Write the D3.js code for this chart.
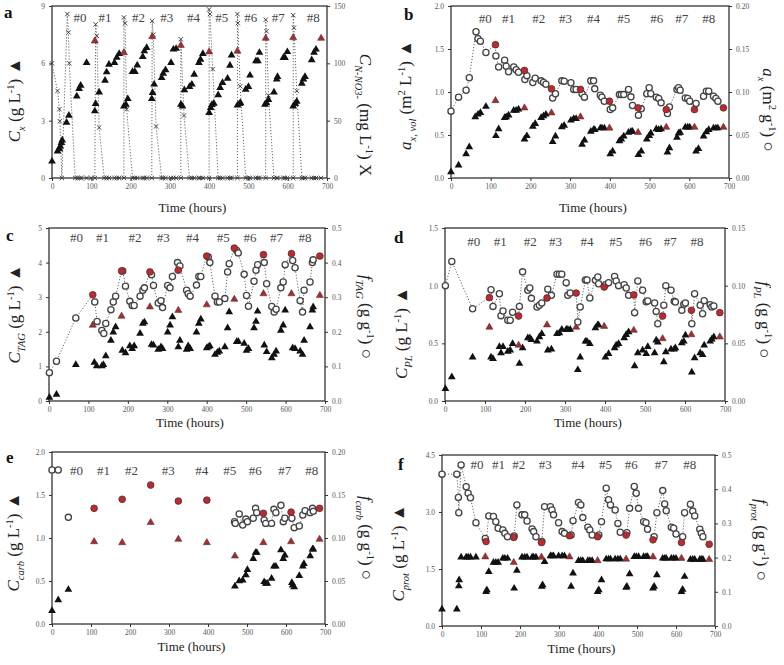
<!DOCTYPE html>
<html><head><meta charset="utf-8">
<script src="https://cdn.jsdelivr.net/npm/d3@7"></script>
<style>body{margin:0;background:#fff}</style></head>
<body><svg id="c" width="784" height="665"></svg>
<script>
// ---------------- DATA ----------------
const xTicks = [0,100,200,300,400,500,600,700];
const hashLabels = ['#0','#1','#2','#3','#4','#5','#6','#7','#8'];

// Panel a
const aCxBlack = [[0,0.87],[14,1.40],[19,1.52],[21,1.66],[24,1.84],[26,1.98],[37,2.90],[43,3.27],[63,4.28],[69,4.67],[73,4.84],[88,6.03],[109,3.50],[111,3.88],[120,4.49],[135,5.10],[139,5.54],[145,5.94],[159,6.03],[165,6.30],[171,6.50],[183,3.76],[188,3.85],[193,4.14],[205,5.56],[211,5.56],[217,5.90],[231,6.35],[235,6.64],[241,6.82],[254,4.14],[256,4.46],[260,4.90],[279,5.24],[283,5.47],[289,5.65],[303,6.03],[309,6.73],[316,6.77],[328,3.85],[332,3.76],[337,4.60],[350,4.77],[356,4.90],[362,5.42],[374,6.03],[378,6.20],[384,6.50],[400,3.41],[404,3.67],[407,3.83],[412,3.90],[423,4.34],[428,4.72],[434,4.98],[447,5.21],[453,5.89],[457,6.42],[472,3.80],[477,3.88],[480,3.92],[493,4.63],[500,4.77],[504,5.37],[519,6.12],[524,6.12],[528,6.56],[542,3.85],[546,3.93],[551,4.10],[565,4.49],[572,5.16],[574,5.30],[589,6.29],[593,6.29],[599,6.60],[614,3.76],[619,3.88],[623,4.00],[636,4.95],[640,5.16],[644,5.30],[661,6.17],[667,6.56],[672,6.73]];
const aCxRed = [[109,7.17],[183,6.56],[255,7.40],[328,6.94],[400,6.60],[472,6.64],[544,7.31],[614,7.34],[685,7.31]];
const aNO3 = [[0,100],[14,76],[19,60],[20,49.5],[25,0],[39,143],[42,127],[44,100],[59,0],[65,0],[70,0],[75,0],[88,0],[100,0],[109,0],[111,134],[114,124],[120,44],[133,0],[139,0],[145,0],[159,0],[165,0],[171,0],[183,0],[183,140],[186,135],[190,60],[205,0],[211,0],[217,0],[231,0],[235,0],[241,0],[254,0],[255,137],[258,125],[265,45],[279,0],[283,0],[289,0],[303,0],[309,0],[316,0],[328,0],[328,121],[336,54.5],[350,0],[356,0],[362,0],[374,0],[378,0],[384,0],[400,0],[400,147],[402,143],[409,95],[423,0],[428,0],[434,0],[447,0],[453,0],[457,0],[472,0],[472,143],[473,135],[479,80],[493,0],[500,0],[504,0],[519,0],[524,0],[528,0],[544,0],[544,138],[546,128],[551,72],[565,0],[572,0],[574,0],[589,0],[593,0],[599,0],[614,0],[614,142],[616,131],[623,76],[636,0],[640,0],[644,0],[661,0],[667,0],[672,0],[685,0]];
const aHashT = [71,135,220,292,360,432,506,576,665];

// Panel b
const bAreaBlack = [[0,0.07],[19,0.148],[38,0.28],[46,0.36],[61,0.71],[68,0.74],[74,0.76],[88,0.83],[113,0.49],[120,0.57],[135,0.70],[139,0.71],[145,0.73],[158,0.785],[164,0.785],[170,0.80],[185,0.45],[191,0.49],[206,0.60],[212,0.63],[227,0.70],[233,0.72],[239,0.74],[256,0.42],[263,0.485],[279,0.594],[285,0.61],[302,0.67],[309,0.69],[315,0.69],[330,0.39],[336,0.44],[352,0.54],[359,0.56],[362,0.56],[376,0.58],[380,0.58],[386,0.58],[401,0.28],[407,0.31],[424,0.43],[429,0.45],[435,0.485],[447,0.53],[453,0.54],[457,0.54],[472,0.27],[479,0.31],[493,0.45],[499,0.49],[503,0.52],[517,0.57],[523,0.56],[529,0.57],[545,0.30],[550,0.35],[569,0.47],[573,0.52],[577,0.53],[590,0.59],[596,0.59],[601,0.59],[617,0.31],[623,0.34],[636,0.485],[643,0.535],[649,0.56],[661,0.58],[667,0.58],[672,0.58]];
const bAreaRed = [[112,0.90],[185,0.815],[253,0.757],[326,0.71],[399,0.58],[471,0.53],[542,0.59],[613,0.59],[686,0.59]];
const bSpecOpen = [[0,0.0777],[19,0.094],[38,0.102],[46,0.1165],[63,0.170],[68,0.162],[74,0.159],[88,0.146],[113,0.142],[120,0.129],[135,0.137],[139,0.130],[145,0.1235],[158,0.129],[164,0.126],[170,0.123],[186,0.1146],[191,0.119],[206,0.111],[212,0.116],[227,0.113],[233,0.111],[239,0.109],[256,0.093],[263,0.098],[279,0.113],[285,0.1126],[302,0.1107],[309,0.103],[315,0.103],[330,0.098],[336,0.094],[352,0.113],[359,0.113],[362,0.1037],[376,0.0963],[380,0.094],[386,0.0893],[401,0.0796],[407,0.0816],[424,0.097],[429,0.097],[435,0.097],[447,0.103],[453,0.0944],[457,0.0843],[472,0.073],[479,0.0804],[493,0.098],[499,0.105],[503,0.098],[517,0.094],[523,0.0924],[529,0.0874],[545,0.075],[550,0.0827],[569,0.103],[573,0.105],[577,0.102],[590,0.093],[596,0.0924],[601,0.0893],[617,0.0866],[636,0.095],[643,0.101],[649,0.101],[661,0.095],[667,0.0924],[672,0.0893]];
const bSpecRed = [[112,0.155],[185,0.125],[253,0.1037],[326,0.103],[399,0.0893],[471,0.0816],[542,0.0796],[613,0.0796],[686,0.0816]];
const bHashT = [86,145,221,288,359,435,518,581,649];

// Panel c
const cTagBlack = [[1,0.1],[19,0.19],[68,1.05],[115,1.11],[121,1.01],[134,1.01],[138,1.05],[144,1.3],[157,1.75],[163,1.99],[169,2.14],[186,1.46],[194,1.39],[205,1.59],[211,1.51],[216,1.59],[231,1.95],[238,2.24],[242,2.28],[260,1.63],[265,1.61],[277,1.49],[284,1.56],[288,1.51],[301,1.99],[307,2.19],[313,2.43],[328,1.56],[332,1.75],[349,1.49],[353,1.59],[358,1.51],[374,1.99],[380,2.24],[385,2.36],[400,1.53],[404,1.56],[408,1.59],[421,1.34],[427,1.4],[432,1.44],[446,1.56],[453,2.11],[457,2.57],[476,1.71],[480,1.72],[495,1.66],[501,1.46],[506,1.51],[520,2.11],[525,2.3],[529,2.59],[546,1.61],[552,1.42],[565,1.24],[571,1.34],[576,1.44],[588,2.04],[594,2.19],[599,2.62],[618,1.53],[624,1.51],[637,1.44],[643,1.34],[647,1.75],[662,2.14],[668,2.62],[670,2.72]];
const cTagRedTri = [[111,2.19],[184,2.45],[256,2.72],[328,2.62],[400,2.78],[470,2.94],[544,3.1],[615,3.1],[687,3.05]];
const cTagOpen = [[1,0.082],[19,0.115],[68,0.24],[116,0.286],[122,0.23],[134,0.204],[139,0.195],[144,0.224],[157,0.264],[163,0.286],[169,0.303],[187,0.376],[194,0.332],[205,0.288],[211,0.276],[216,0.276],[231,0.303],[238,0.32],[242,0.327],[260,0.365],[265,0.334],[277,0.283],[284,0.29],[288,0.27],[301,0.334],[307,0.327],[313,0.36],[326,0.40],[332,0.39],[349,0.32],[353,0.31],[358,0.303],[374,0.335],[380,0.36],[385,0.36],[404,0.416],[408,0.40],[421,0.303],[427,0.286],[432,0.286],[446,0.296],[453,0.373],[457,0.397],[476,0.435],[480,0.428],[495,0.366],[501,0.305],[506,0.274],[520,0.346],[525,0.378],[529,0.394],[546,0.40],[552,0.339],[565,0.273],[571,0.257],[576,0.265],[588,0.327],[594,0.344],[599,0.394],[618,0.406],[624,0.385],[637,0.29],[643,0.257],[647,0.32],[662,0.344],[668,0.40],[670,0.408]];
const cTagRed = [[111,0.307],[184,0.376],[256,0.373],[328,0.378],[400,0.419],[470,0.442],[544,0.423],[615,0.426],[687,0.419]];
const cHashT = [70,136,218,290,364,442,510,577,649];

// Panel d
const dPlBlack = [[1,0.107],[17,0.208],[69,0.38],[115,0.38],[120,0.367],[136,0.47],[140,0.416],[145,0.47],[157,0.43],[163,0.44],[169,0.497],[186,0.324],[194,0.46],[207,0.546],[212,0.546],[216,0.53],[230,0.517],[236,0.555],[242,0.584],[257,0.44],[266,0.448],[280,0.584],[286,0.59],[292,0.62],[303,0.62],[307,0.62],[313,0.62],[332,0.27],[338,0.38],[351,0.517],[355,0.517],[362,0.497],[376,0.633],[382,0.66],[384,0.656],[401,0.38],[409,0.41],[424,0.46],[428,0.483],[434,0.497],[448,0.546],[453,0.575],[459,0.598],[474,0.303],[482,0.416],[494,0.44],[503,0.41],[507,0.47],[524,0.416],[528,0.526],[532,0.51],[547,0.338],[552,0.425],[565,0.448],[573,0.448],[576,0.46],[592,0.503],[597,0.517],[601,0.57],[617,0.25],[624,0.373],[638,0.416],[644,0.40],[648,0.483],[663,0.517],[667,0.535],[672,0.555]];
const dPlRedTri = [[111,0.64],[184,0.483],[255,0.66],[328,0.64],[398,0.647],[472,0.613],[544,0.54],[616,0.575],[687,0.555]];
const dPlOpen = [[1,0.100],[17,0.121],[69,0.080],[115,0.0965],[120,0.082],[136,0.093],[140,0.074],[145,0.078],[157,0.070],[163,0.070],[169,0.077],[186,0.082],[194,0.112],[207,0.096],[212,0.098],[216,0.089],[230,0.0815],[236,0.083],[242,0.085],[257,0.097],[266,0.0916],[280,0.110],[286,0.110],[292,0.110],[303,0.1026],[307,0.0916],[313,0.0936],[332,0.0685],[338,0.0815],[351,0.105],[355,0.105],[362,0.0893],[376,0.1046],[382,0.1075],[384,0.1017],[401,0.1009],[409,0.1026],[424,0.108],[428,0.104],[434,0.100],[448,0.1009],[453,0.098],[459,0.0916],[474,0.0766],[482,0.104],[494,0.096],[503,0.086],[507,0.0867],[524,0.085],[528,0.0777],[532,0.067],[547,0.083],[552,0.100],[565,0.096],[573,0.0864],[576,0.0858],[592,0.0786],[597,0.0838],[601,0.085],[617,0.067],[624,0.093],[638,0.083],[644,0.0757],[648,0.087],[663,0.0835],[667,0.0815],[672,0.0824]];
const dPlRed = [[111,0.0896],[184,0.0737],[255,0.0893],[328,0.0936],[398,0.0988],[472,0.092],[544,0.0737],[616,0.0786],[687,0.0766]];
const dHashT = [72,138,213,276,355,427,501,563,630];

// Panel e
const eCarbBlack = [[0,0.155],[16,0.28],[42,0.40],[469,0.44],[480,0.50],[489,0.51],[497,0.57],[501,0.63],[516,0.76],[522,0.83],[525,0.83],[544,0.49],[548,0.47],[552,0.47],[563,0.53],[569,0.67],[574,0.67],[587,0.86],[593,0.76],[597,0.80],[615,0.48],[617,0.45],[621,0.43],[634,0.56],[643,0.67],[646,0.70],[662,0.79],[668,0.87],[670,0.87]];
const eCarbRedTri = [[108,0.957],[180,0.946],[253,1.18],[324,0.985],[397,0.946],[469,0.79],[542,0.946],[613,0.957],[686,0.985]];
const eCarbOpen = [[0,0.179],[16,0.179],[42,0.124],[468,0.119],[470,0.117],[480,0.128],[489,0.115],[497,0.122],[501,0.119],[516,0.123],[522,0.1345],[525,0.1295],[544,0.121],[548,0.117],[563,0.117],[569,0.1333],[574,0.1295],[587,0.138],[593,0.119],[597,0.123],[615,0.123],[621,0.112],[634,0.114],[643,0.1267],[649,0.1318],[662,0.1295],[668,0.1345],[670,0.131]];
const eCarbRed = [[108,0.1345],[180,0.145],[253,0.1616],[324,0.143],[397,0.144],[542,0.1287],[613,0.13],[686,0.1345]];
const eHashT = [63,132,204,298,384,456,521,597,666];

// Panel f
const fProtBlack = [[0,0.44],[38,0.44],[43,1.05],[44,1.21],[49,1.81],[62,1.81],[67,1.81],[73,1.81],[87,1.81],[113,0.90],[115,0.95],[120,1.43],[132,1.67],[138,1.67],[144,1.67],[156,1.78],[161,1.78],[168,1.78],[185,0.99],[192,1.46],[205,1.81],[212,1.81],[218,1.81],[231,1.81],[235,1.81],[241,1.81],[256,1.04],[258,1.08],[263,1.69],[278,1.84],[282,1.84],[286,1.84],[299,1.84],[308,1.84],[314,1.84],[331,1.04],[336,1.39],[350,1.72],[356,1.72],[361,1.72],[374,1.72],[379,1.72],[385,1.72],[399,0.90],[402,0.95],[409,1.21],[421,1.76],[427,1.76],[432,1.76],[444,1.76],[451,1.76],[457,1.76],[472,1.01],[474,1.04],[481,1.37],[493,1.82],[498,1.82],[504,1.82],[517,1.82],[523,1.82],[527,1.82],[541,0.99],[544,1.04],[551,1.34],[566,1.78],[571,1.78],[575,1.78],[588,1.78],[594,1.78],[600,1.78],[614,0.90],[617,0.96],[622,1.30],[637,1.75],[643,1.75],[648,1.75],[661,1.75],[665,1.75],[669,1.75]];
const fProtRedTri = [[111,1.82],[184,1.67],[255,1.81],[327,1.82],[399,1.72],[472,1.76],[541,1.82],[614,1.78],[685,1.75]];
const fProtOpen = [[0,0.444],[38,0.444],[42,0.376],[43,0.331],[49,0.471],[62,0.407],[67,0.388],[73,0.375],[87,0.302],[111,0.256],[120,0.322],[132,0.32],[138,0.305],[144,0.286],[156,0.281],[161,0.271],[168,0.261],[185,0.263],[192,0.354],[205,0.325],[212,0.325],[218,0.307],[231,0.284],[235,0.276],[241,0.261],[256,0.247],[263,0.349],[278,0.349],[282,0.339],[286,0.325],[299,0.302],[308,0.276],[314,0.271],[331,0.266],[336,0.308],[350,0.361],[356,0.354],[361,0.317],[374,0.289],[379,0.281],[385,0.266],[402,0.266],[409,0.305],[421,0.403],[427,0.369],[432,0.354],[444,0.339],[451,0.30],[457,0.274],[474,0.273],[481,0.344],[493,0.408],[498,0.388],[504,0.344],[517,0.305],[523,0.302],[527,0.283],[544,0.261],[551,0.331],[566,0.396],[571,0.357],[575,0.337],[588,0.289],[594,0.286],[600,0.269],[617,0.261],[622,0.331],[637,0.356],[643,0.336],[648,0.322],[661,0.283],[665,0.271],[669,0.261]];
const fProtRed = [[113,0.247],[184,0.259],[255,0.244],[327,0.264],[399,0.261],[472,0.266],[541,0.252],[614,0.244],[685,0.239]];
const fHashT = [90,145,197,265,349,419,485,562,635];

// ---------------- DRAWING ----------------
const SERIF = "'Liberation Serif','Times New Roman',serif";
const svg = d3.select('#c');
svg.append('rect').attr('width',784).attr('height',665).attr('fill','#fff');

function rich(textSel, parts, fs){
  let shift = 0;
  parts.forEach(p=>{
    const lvl = p.sub ? fs*0.3 : (p.sup ? -fs*0.38 : 0);
    const t = textSel.append('tspan').text(p.t).attr('dy', lvl - shift);
    shift = lvl;
    if (p.sub || p.sup) t.attr('font-size', fs*0.62);
    if (p.i) t.attr('font-style','italic');
  });
}

const merge = (a,b) => a.concat(b).sort((p,q)=>p[0]-q[0]);

function drawPanel(c){
  const g = svg.append('g');
  const x = d3.scaleLinear().domain([0,700]).range([c.x0,c.x1]);
  const yL = d3.scaleLinear().domain([0,c.lMax]).range([c.y1,c.y0]);
  const yR = d3.scaleLinear().domain([0,c.rMax]).range([c.y1,c.y0]);

  const styleAxis = s => {
    s.select('.domain').remove();
    s.selectAll('.tick line').attr('stroke','#333').attr('stroke-width',1);
    s.selectAll('.tick text').attr('font-family',SERIF).attr('font-size',7.5).attr('fill','#555');
  };
  g.append('g').attr('transform',`translate(0,${c.y1})`)
    .call(d3.axisBottom(x).tickValues(xTicks).tickSize(3).tickPadding(3).tickFormat(d3.format('d'))).call(styleAxis);
  g.append('g').attr('transform',`translate(${c.x0},0)`)
    .call(d3.axisLeft(yL).tickValues(c.lTicks).tickSize(3).tickPadding(4).tickFormat(d3.format(c.lFmt))).call(styleAxis);
  g.append('g').attr('transform',`translate(${c.x1},0)`)
    .call(d3.axisRight(yR).tickValues(c.rTicks).tickSize(3).tickPadding(4).tickFormat(d3.format(c.rFmt))).call(styleAxis);
  g.append('rect').attr('x',c.x0).attr('y',c.y0).attr('width',c.x1-c.x0).attr('height',c.y1-c.y0)
    .attr('fill','none').attr('stroke','#333').attr('stroke-width',1.3);

  // dotted lines
  const line = s => d3.line().x(d=>x(d[0])).y(d=>s(d[1]));
  (c.lines||[]).forEach(L=>{
    g.append('path').datum(L.data).attr('d', line(L.axis==='R'?yR:yL))
      .attr('fill','none').attr('stroke','#666').attr('stroke-width',1).attr('stroke-dasharray','1.2,1.8');
  });

  const tri = d3.symbol(d3.symbolTriangle, 26)();
  const triR = d3.symbol(d3.symbolTriangle, 22)();
  const plot = (data, scale, kind) => {
    const sel = g.append('g').selectAll('path').data(data).join('path')
      .attr('transform', d=>`translate(${x(d[0])},${scale(d[1])})`);
    if (kind==='tri') sel.attr('d', tri).attr('fill','#111');
    if (kind==='triR') sel.attr('d', triR).attr('fill','#b0282c').attr('stroke','#333').attr('stroke-width',0.5);
    if (kind==='circ') sel.attr('d', d3.symbol(d3.symbolCircle, 30)()).attr('fill','#fff').attr('stroke','#444').attr('stroke-width',1.3);
    if (kind==='circR') sel.attr('d', d3.symbol(d3.symbolCircle, 36)()).attr('fill','#c1272d').attr('stroke','#333').attr('stroke-width',0.7);
    if (kind==='x') sel.attr('d', d3.symbol(d3.symbolX || d3.symbolCross, 14)()).attr('fill','none').attr('stroke','#333').attr('stroke-width',0.9);
  };
  c.series.forEach(s => plot(s.data, s.axis==='R'?yR:yL, s.kind));

  // batch labels
  g.append('g').selectAll('text').data(c.hashT).join('text')
    .attr('x', d=>x(d)).attr('y', yL(c.hashY)).attr('text-anchor','middle').attr('dy','0.35em')
    .attr('font-family',SERIF).attr('font-size',13).attr('fill','#444')
    .text((d,i)=>hashLabels[i]);

  // titles
  g.append('text').attr('x',(c.x0+c.x1)/2+3).attr('y',c.titleY).attr('text-anchor','middle')
    .attr('font-family',SERIF).attr('font-size',13).attr('fill','#222').text('Time (hours)');
  g.append('text').attr('x',c.letter[0]).attr('y',c.letter[1]).attr('font-family',SERIF)
    .attr('font-weight','bold').attr('font-size',17).attr('fill','#111').text(c.id);
  const fs = 17;
  const tl = g.append('text').attr('transform',`translate(${c.leftLab[0]},${c.leftLab[1]}) rotate(-90)`)
    .attr('text-anchor','middle').attr('font-family',SERIF).attr('font-size',fs).attr('fill','#222');
  rich(tl, c.leftParts, fs);
  const tr = g.append('text').attr('transform',`translate(${c.rightLab[0]},${c.rightLab[1]}) rotate(90)`)
    .attr('text-anchor','middle').attr('font-family',SERIF).attr('font-size',fs).attr('fill','#222');
  rich(tr, c.rightParts, fs);
}

const gL = [{t:' (g L'},{t:'-1',sup:true},{t:') ▲'}];
const gG = [{t:' (g g'},{t:'-1',sup:true},{t:') ○'}];

const panels = [
 {id:'a', x0:52,x1:327,y0:6,y1:178, lMax:9,rMax:150, lTicks:[0,3,6,9], rTicks:[0,50,100,150], lFmt:'d', rFmt:'d',
  hashT:aHashT, hashY:8.4, titleY:212, letter:[4,18], leftLab:[20,100], rightLab:[360,115],
  leftParts:[{t:'C',i:true},{t:'x',sub:true,i:true}].concat(gL),
  rightParts:[{t:'C',i:true},{t:'N-NO3-',sub:true,i:true},{t:' (mg L'},{t:'-1',sup:true},{t:')  X'}],
  lines:[{data:aNO3,axis:'R'}],
  series:[{data:aNO3,axis:'R',kind:'x'},{data:aCxBlack,axis:'L',kind:'tri'},{data:aCxRed,axis:'L',kind:'triR'}]},
 {id:'b', x0:451,x1:729,y0:6,y1:178, lMax:2,rMax:0.2, lTicks:[0,0.5,1,1.5,2], rTicks:[0,0.05,0.1,0.15,0.2], lFmt:'.1f', rFmt:'.2f',
  hashT:bHashT, hashY:1.86, titleY:212, letter:[404,20], leftLab:[411,95], rightLab:[763,110],
  leftParts:[{t:'a',i:true},{t:'x, vol',sub:true,i:true},{t:' (m'},{t:'2',sup:true},{t:' L'},{t:'-1',sup:true},{t:') ▲'}],
  rightParts:[{t:'a',i:true},{t:'x',sub:true,i:true},{t:' (m'},{t:'2',sup:true},{t:' g'},{t:'-1',sup:true},{t:') ○'}],
  lines:[{data:merge(bSpecOpen,bSpecRed),axis:'R'}],
  series:[{data:bAreaBlack,axis:'L',kind:'tri'},{data:bAreaRed,axis:'L',kind:'triR'},{data:bSpecOpen,axis:'R',kind:'circ'},{data:bSpecRed,axis:'R',kind:'circR'}]},
 {id:'c', x0:49,x1:325,y0:228,y1:401, lMax:5,rMax:0.5, lTicks:[0,1,2,3,4,5], rTicks:[0,0.1,0.2,0.3,0.4,0.5], lFmt:'d', rFmt:'.1f',
  hashT:cHashT, hashY:4.74, titleY:427, letter:[6,241], leftLab:[20,314], rightLab:[361,317],
  leftParts:[{t:'C',i:true},{t:'TAG',sub:true,i:true}].concat(gL),
  rightParts:[{t:'f',i:true},{t:'TAG',sub:true,i:true}].concat(gG),
  lines:[{data:merge(cTagOpen,cTagRed),axis:'R'}],
  series:[{data:cTagBlack,axis:'L',kind:'tri'},{data:cTagRedTri,axis:'L',kind:'triR'},{data:cTagOpen,axis:'R',kind:'circ'},{data:cTagRed,axis:'R',kind:'circR'}]},
 {id:'d', x0:445,x1:725,y0:228,y1:401, lMax:1.5,rMax:0.15, lTicks:[0,0.5,1,1.5], rTicks:[0,0.05,0.1,0.15], lFmt:'.1f', rFmt:'.2f',
  hashT:dHashT, hashY:1.385, titleY:427, letter:[394,243], leftLab:[407,333], rightLab:[759,320],
  leftParts:[{t:'C',i:true},{t:'PL',sub:true,i:true}].concat(gL),
  rightParts:[{t:'f',i:true},{t:'PL',sub:true,i:true}].concat(gG),
  lines:[{data:merge(dPlOpen,dPlRed),axis:'R'}],
  series:[{data:dPlBlack,axis:'L',kind:'tri'},{data:dPlRedTri,axis:'L',kind:'triR'},{data:dPlOpen,axis:'R',kind:'circ'},{data:dPlRed,axis:'R',kind:'circR'}]},
 {id:'e', x0:52,x1:325,y0:452,y1:624, lMax:2,rMax:0.2, lTicks:[0,0.5,1,1.5,2], rTicks:[0,0.05,0.1,0.15,0.2], lFmt:'.1f', rFmt:'.2f',
  hashT:eHashT, hashY:1.79, titleY:651, letter:[6,463], leftLab:[19,542], rightLab:[361,538],
  leftParts:[{t:'C',i:true},{t:'carb',sub:true,i:true}].concat(gL),
  rightParts:[{t:'f',i:true},{t:'carb',sub:true,i:true}].concat(gG),
  lines:[{data:merge(eCarbOpen.filter(d=>d[0]>400),eCarbRed.filter(d=>d[0]>400)),axis:'R'}],
  series:[{data:eCarbBlack,axis:'L',kind:'tri'},{data:eCarbRedTri,axis:'L',kind:'triR'},{data:eCarbOpen,axis:'R',kind:'circ'},{data:eCarbRed,axis:'R',kind:'circR'}]},
 {id:'f', x0:442,x1:715,y0:455,y1:626, lMax:4.5,rMax:0.5, lTicks:[0,1.5,3,4.5], rTicks:[0,0.1,0.2,0.3,0.4,0.5], lFmt:'.1f', rFmt:'.1f',
  hashT:fHashT, hashY:4.24, titleY:653, letter:[398,470], leftLab:[404,553], rightLab:[756,540],
  leftParts:[{t:'C',i:true},{t:'prot',sub:true,i:true}].concat(gL),
  rightParts:[{t:'f',i:true},{t:'prot',sub:true,i:true}].concat(gG),
  lines:[{data:merge(fProtOpen,fProtRed),axis:'R'}],
  series:[{data:fProtBlack,axis:'L',kind:'tri'},{data:fProtRedTri,axis:'L',kind:'triR'},{data:fProtOpen,axis:'R',kind:'circ'},{data:fProtRed,axis:'R',kind:'circR'}]}
];
panels.forEach(drawPanel);
</script></body></html>
